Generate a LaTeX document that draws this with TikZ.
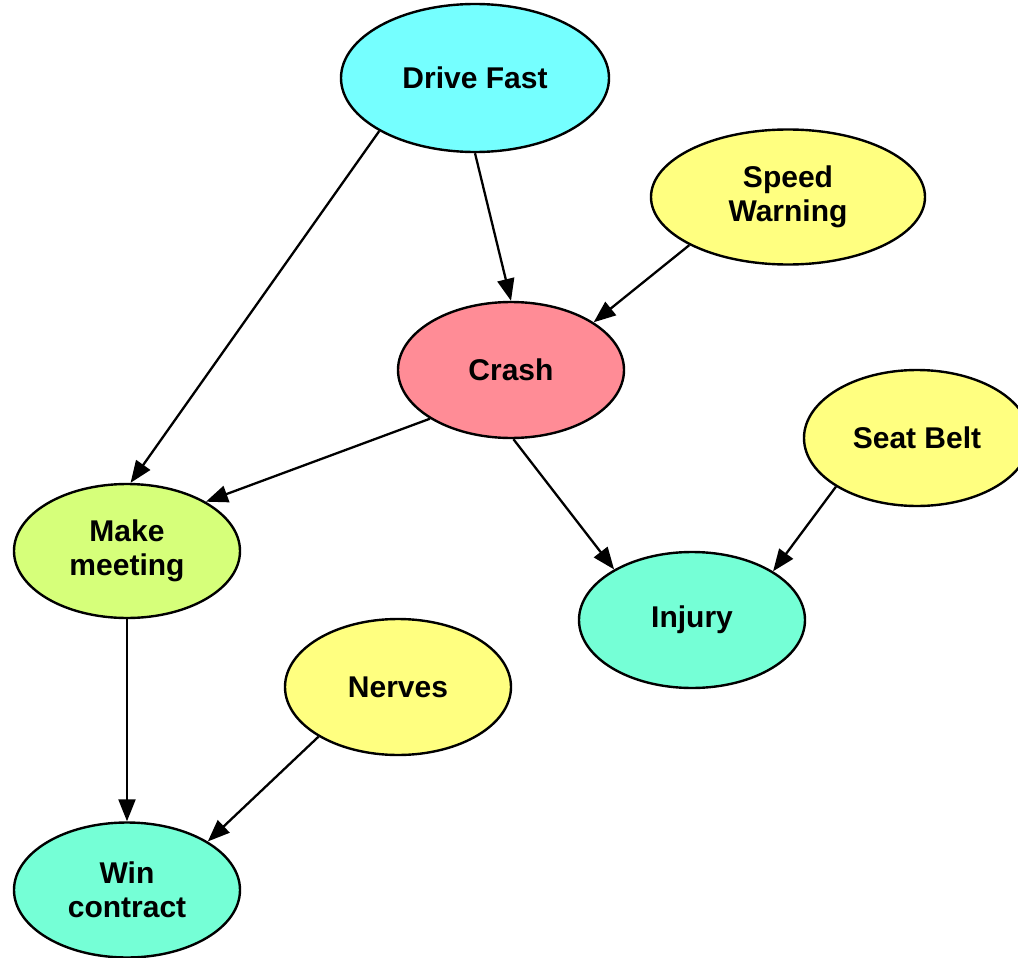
\documentclass[tikz,border=0pt]{standalone}
\usepackage{fontspec}
\setmainfont{Liberation Sans}
\usetikzlibrary{shapes.geometric,arrows.meta}

\definecolor{cfast}{RGB}{117,255,255}
\definecolor{cwarn}{RGB}{255,255,128}
\definecolor{ccrash}{RGB}{255,140,150}
\definecolor{cmeet}{RGB}{214,255,122}
\definecolor{cout}{RGB}{117,255,214}

\tikzset{
  var/.style={ellipse, draw=black, line width=2.4pt, inner sep=0pt,
    minimum width=226pt, minimum height=136pt, align=center,
    font=\bfseries\fontsize{30}{34}\selectfont},
  link/.style={line width=2.3pt, -{Triangle[length=22pt,width=17pt]}}
}

\begin{document}
\begin{tikzpicture}[x=1pt,y=-1pt]
  \useasboundingbox (0,0) rectangle (1018,958);

  % variables
  \node[var, fill=cfast, minimum width=268pt, minimum height=148pt] (fast) at (475,78) {Drive Fast};
  \node[var, fill=cwarn, minimum width=274pt, minimum height=135pt] (warn) at (788,197) {Speed\\Warning};
  \node[var, fill=ccrash] (crash) at (511,370) {Crash};
  \node[var, fill=cwarn] (belt) at (917,438) {Seat Belt};
  \node[var, fill=cmeet, minimum height=134pt] (meet) at (127,551) {Make\\meeting};
  \node[var, fill=cout] (injury) at (692,620) {Injury};
  \node[var, fill=cwarn] (nerves) at (398,687) {Nerves};
  \node[var, fill=cout, minimum height=135pt] (win) at (127,890) {Win\\contract};

  % influences
  \draw[link] (fast.south) -- (crash.north);
  \draw[link] (fast.209.6) -- (meet.87);
  \draw[link] (warn.206) -- (crash.30);
  \draw[link] (crash.211.7) -- (meet.32);
  \draw[link] (crash.272) -- (injury.147.6);
  \draw[link] (belt.211.8) -- (injury.31.7);
  \draw[link] (meet.south) -- (win.north);
  \draw[link] (nerves.212) -- (win.31.7);
\end{tikzpicture}
\end{document}
